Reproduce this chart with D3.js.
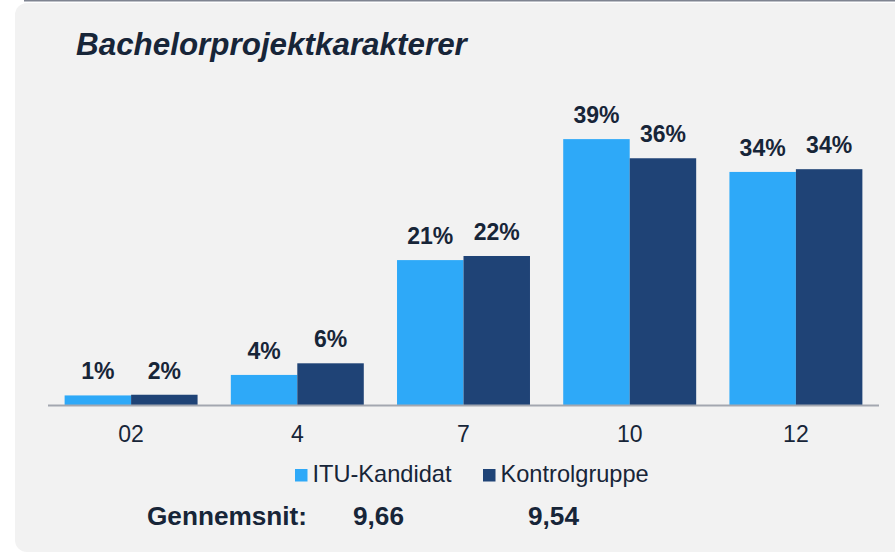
<!DOCTYPE html>
<html>
<head>
<meta charset="utf-8">
<script src="https://cdn.jsdelivr.net/npm/d3@7"></script>
<style>
  html, body { margin: 0; padding: 0; background: #ffffff; }
  svg { display: block; }
</style>
</head>
<body>
<svg id="chart" width="895" height="553"></svg>
<script>
const categories = ["02", "4", "7", "10", "12"];
const seriesNames = ["ITU-Kandidat", "Kontrolgruppe"];
const ituValues = [1.4, 4.4, 21.2, 38.9, 34.1];
const kontrolValues = [1.5, 6.1, 21.8, 36.1, 34.5];
const ituLabels = ["1%", "4%", "21%", "39%", "34%"];
const kontrolLabels = ["2%", "6%", "22%", "36%", "34%"];
const averages = ["9,66", "9,54"];
const titleText = "Bachelorprojektkarakterer";
const averageLabel = "Gennemsnit:";

const colors = ["#2ea9f8", "#1f4376"];
const textColor = "#172538";

const svg = d3.select("#chart");

// background panel
svg.append("rect").attr("x", 15).attr("y", 3).attr("width", 900).attr("height", 549)
  .attr("rx", 12).attr("ry", 12).attr("fill", "#f2f2f2");
svg.append("line").attr("x1", 24).attr("x2", 895).attr("y1", 0.5).attr("y2", 0.5)
  .attr("stroke", "#7f8491").attr("stroke-width", 2);

// title
svg.append("text").attr("x", 76).attr("y", 54.5)
  .attr("font-family", "Liberation Sans, Arial, sans-serif")
  .attr("font-weight", "bold").attr("font-style", "italic")
  .attr("font-size", 31.4).attr("fill", textColor).text(titleText);

const x0 = d3.scaleBand().domain(categories).range([48, 879]).paddingInner(0.2).paddingOuter(0.1);
const x1 = d3.scaleBand().domain(seriesNames).range([0, x0.bandwidth()]);
const y = d3.scaleLinear().domain([0, 40]).range([405, 405 - 273.4]);

const data = categories.map((c, i) => ({
  cat: c,
  vals: [
    { s: seriesNames[0], v: ituValues[i], label: ituLabels[i] },
    { s: seriesNames[1], v: kontrolValues[i], label: kontrolLabels[i] }
  ]
}));

const groups = svg.append("g").selectAll("g").data(data).join("g")
  .attr("transform", d => `translate(${x0(d.cat)},0)`);

groups.selectAll("rect").data(d => d.vals).join("rect")
  .attr("x", d => x1(d.s)).attr("width", x1.bandwidth())
  .attr("y", d => y(d.v)).attr("height", d => y(0) - y(d.v))
  .attr("fill", (d, i) => colors[i]);

groups.selectAll("text").data(d => d.vals).join("text")
  .attr("x", d => x1(d.s) + x1.bandwidth() / 2)
  .attr("y", d => y(d.v) - 16)
  .attr("text-anchor", "middle")
  .attr("font-family", "Liberation Sans, Arial, sans-serif")
  .attr("font-weight", "bold").attr("font-size", 23)
  .attr("fill", textColor).text(d => d.label);

// x axis
const axis = svg.append("g").attr("transform", "translate(0,405)")
  .call(d3.axisBottom(x0).tickSize(0).tickPadding(37));
axis.select(".domain").attr("stroke", "#a3a7b0").attr("stroke-width", 2)
  .attr("d", "M48,0.5H879");
axis.selectAll("text")
  .attr("font-family", "Liberation Sans, Arial, sans-serif")
  .attr("font-size", 23).attr("fill", textColor).attr("dy", 0);

// legend
const legendItems = [
  { name: seriesNames[0], x: 295, color: colors[0] },
  { name: seriesNames[1], x: 483, color: colors[1] }
];
const lg = svg.append("g").selectAll("g").data(legendItems).join("g");
lg.append("rect").attr("x", d => d.x).attr("y", 469).attr("width", 12.5).attr("height", 12.5)
  .attr("fill", d => d.color);
lg.append("text").attr("x", d => d.x + 17.5).attr("y", 481.5)
  .attr("font-family", "Liberation Sans, Arial, sans-serif")
  .attr("font-size", 23.6).attr("fill", textColor).text(d => d.name);

// averages
const avgFont = { family: "Liberation Sans, Arial, sans-serif", size: 26.2 };
svg.append("text").attr("x", 147).attr("y", 525)
  .attr("font-family", avgFont.family).attr("font-weight", "bold").attr("font-size", avgFont.size)
  .attr("fill", textColor).text(averageLabel);
svg.append("g").selectAll("text").data(averages).join("text")
  .attr("x", (d, i) => [353, 528][i]).attr("y", 525)
  .attr("font-family", avgFont.family).attr("font-weight", "bold").attr("font-size", avgFont.size)
  .attr("fill", textColor).text(d => d);
</script>
</body>
</html>
